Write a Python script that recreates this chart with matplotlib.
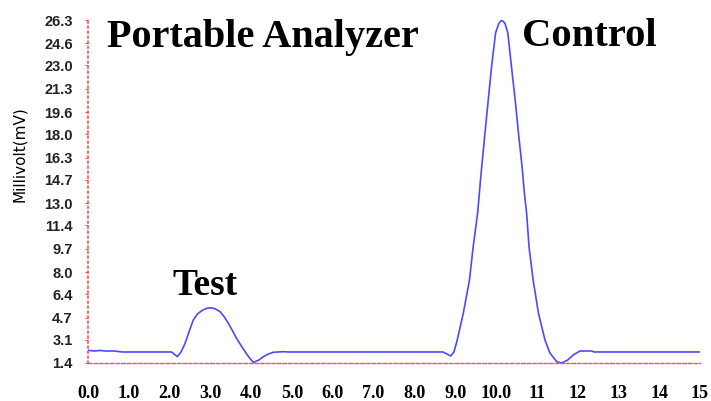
import numpy as np
import matplotlib
matplotlib.use('Agg')
import matplotlib.pyplot as plt

# Trace (minutes vs millivolt)
time_min = [0.0, 0.15, 0.3, 0.45, 0.6, 0.85, 2.05, 2.19, 2.28, 2.38, 2.48,
            2.58, 2.68, 2.79, 2.9, 3.01, 3.12, 3.24, 3.34, 3.44, 3.54, 3.64,
            3.75, 3.85, 3.95, 4.05, 4.18, 4.30, 4.42, 4.54, 4.79, 4.9,
            8.7, 8.8, 8.89, 8.97, 9.05, 9.20, 9.35, 9.44, 9.55, 9.62, 9.73,
            9.81, 9.89, 9.99, 10.07, 10.14, 10.22, 10.29, 10.38, 10.47,
            10.55, 10.64, 10.70, 10.75, 10.81, 10.91, 11.04, 11.20, 11.32,
            11.49, 11.61, 11.75, 11.9, 12.06, 12.35, 12.4, 15.0]
millivolt = [2.32, 2.27, 2.31, 2.26, 2.28, 2.2, 2.2, 1.86, 2.2, 2.83, 3.7,
             4.52, 4.95, 5.2, 5.36, 5.41, 5.33, 5.12, 4.75, 4.28, 3.75, 3.19,
             2.68, 2.22, 1.8, 1.45, 1.6, 1.86, 2.05, 2.18, 2.22, 2.2,
             2.2, 2.05, 1.91, 2.2, 3.07, 5.03, 7.43, 9.82, 12.29, 14.69, 18.1,
             20.49, 22.89, 25.36, 26.06, 26.3, 26.06, 25.36, 22.89, 20.49,
             18.1, 15.63, 13.6, 12.29, 9.82, 7.43, 5.03, 3.07, 2.13,
             1.49, 1.4, 1.6, 2.0, 2.27, 2.27, 2.2, 2.2]

y_ticks = [1.4, 3.1, 4.7, 6.4, 8.0, 9.7, 11.4, 13.0, 14.7, 16.3, 18.0,
           19.6, 21.3, 23.0, 24.6, 26.3]
x_ticks = list(range(16))
x_labels = ['0.0', '1.0', '2.0', '3.0', '4.0', '5.0', '6.0', '7.0', '8.0',
            '9.0', '10.0', '11', '12', '13', '14', '15']

fig = plt.figure(figsize=(7.11, 4.01), dpi=100)
ax = fig.add_axes([88 / 711, 1 - 363 / 401, 612 / 711, 343 / 401])

ax.plot(time_min, millivolt, color='#4a4aff', linewidth=1.2)

ax.set_xlim(0, 15)
ax.set_ylim(1.4, 26.3)

# Axes styling: red dotted/dashed spines, no box
for side in ['top', 'right']:
    ax.spines[side].set_visible(False)
ax.spines['left'].set_color('#ff5050')
ax.spines['left'].set_linestyle((0, (1, 2)))
ax.spines['left'].set_linewidth(1.2)
ax.spines['bottom'].set_color('#ff5050')
ax.spines['bottom'].set_linestyle((0, (2.5, 1.5)))
ax.spines['bottom'].set_linewidth(1.0)

ax.set_yticks(y_ticks)
ax.set_yticklabels([f'{v:.1f}' for v in y_ticks], family='Liberation Sans',
                   fontweight='bold', fontsize=10.5, color='#222222')
ax.set_xticks(x_ticks)
ax.set_xticklabels(x_labels, family='Liberation Serif', fontweight='bold',
                   fontsize=13, color='black')
ax.tick_params(axis='y', length=2, color='#ff5050', pad=9)
ax.tick_params(axis='x', length=0, pad=16)

fig.text(20 / 711, 1 - 154 / 401, 'Millivolt(mV)', rotation=90,
         ha='center', va='center', fontsize=11, family='DejaVu Sans')

# Peak annotations
title_kw = dict(family='Liberation Serif', fontweight='bold', va='baseline',
                ha='left', color='black', clip_on=False)
ax.text(0.47, 24.34, 'Portable Analyzer', fontsize=29, **title_kw)
ax.text(10.64, 24.4, 'Control', fontsize=29.3, **title_kw)
ax.text(2.06, 6.34, 'Test', fontsize=27, **title_kw)

fig.savefig('out.png', dpi=100)
plt.close(fig)
